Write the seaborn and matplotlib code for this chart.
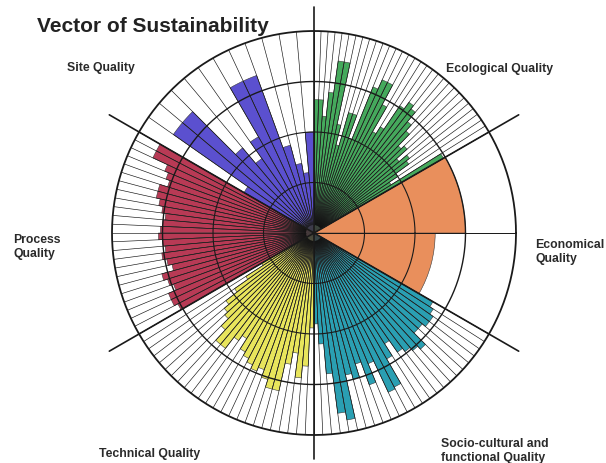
import numpy as np
import pandas as pd
import matplotlib
matplotlib.use("Agg")
import matplotlib.pyplot as plt
import seaborn as sns

# Daten: Werte je Kriterium (0..1), je Sektor gegen den Uhrzeigersinn
title = "Vector of Sustainability"
sector_names = ["Economical\nQuality", "Ecological Quality", "Site Quality",
                "Process\nQuality", "Technical Quality",
                "Socio-cultural and\nfunctional Quality"]
economical = [0.60, 0.75]
ecological = [0.74, 0.45, 0.50, 0.58, 0.60, 0.55, 0.62, 0.60, 0.68, 0.72,
              0.78, 0.80, 0.76, 0.62, 0.58, 0.72, 0.83, 0.83, 0.78, 0.50,
              0.62, 0.62, 0.45, 0.55, 0.86, 0.86, 0.70, 0.58, 0.66, 0.66]
site = [0.50, 0.30, 0.35, 0.45, 0.83, 0.83, 0.55, 0.45, 0.55, 0.85, 0.85, 0.40]
process = [0.88, 0.88, 0.80, 0.78, 0.76, 0.80, 0.80, 0.78, 0.76, 0.74, 0.75, 0.76,
           0.77, 0.75, 0.74, 0.76, 0.74, 0.72, 0.78, 0.76, 0.74, 0.78, 0.78, 0.76]
technical = [0.30, 0.40, 0.48, 0.55, 0.58, 0.60, 0.65, 0.72, 0.72, 0.65, 0.62, 0.68,
             0.70, 0.72, 0.74, 0.72, 0.76, 0.80, 0.80, 0.66, 0.60, 0.72, 0.66, 0.47]
socio = [0.45, 0.55, 0.70, 0.90, 0.94, 0.72, 0.75, 0.68, 0.80, 0.70, 0.87, 0.86,
         0.72, 0.65, 0.72, 0.74, 0.76, 0.78, 0.70, 0.70, 0.72, 0.72, 0.70, 0.68]
sector_values = [economical, ecological, site, process, technical, socio]
sector_colors = ["#e98f5c", "#45a95c", "#5b50cf", "#b83a55", "#e8e55c", "#2a9fb2"]

sns.set_theme(style="white")
plt.rcParams['font.family'] = ['Liberation Sans', 'DejaVu Sans']

W, H = 606, 464
fig = plt.figure(figsize=(W / 100, H / 100), dpi=100)
RMAX = 1.18
cx, cy, rpx = 314, 234, 202
half = rpx * RMAX
ax = fig.add_axes([(cx - half) / W, (H - cy - half) / H, 2 * half / W, 2 * half / H],
                  projection="polar")

sector = np.deg2rad(60)
for i, (vals, col) in enumerate(zip(sector_values, sector_colors)):
    start = np.deg2rad(-30) + i * sector
    n = len(vals)
    w = sector / n
    theta = start + w * (np.arange(n) + 0.5)
    df = pd.DataFrame({"theta": theta, "score": vals})
    sns.barplot(data=df, x="theta", y="score", native_scale=True, width=1,
                color=col, saturation=1, errorbar=None, orient="x",
                edgecolor="#3a3a3a", linewidth=0.4, ax=ax, zorder=2)
    # Speichen bis zum Außenkreis
    ax.vlines(start + w * np.arange(n + 1), 0.04, 1, color="#111111", lw=0.45, zorder=3)

# Ringe
t = np.linspace(0, 2 * np.pi, 500)
for r, lw in [(0.25, 0.8), (0.5, 0.8), (0.75, 1.0), (1.0, 1.3)]:
    ax.plot(t, np.full_like(t, r), color="#1a1a1a", lw=lw, zorder=4)

# Sektorgrenzen
for k in range(6):
    a = np.deg2rad(30 + 60 * k)
    rend = 1.12 if k in (1, 4) else 1.17
    ax.plot([a, a], [0, rend], color="#1a1a1a", lw=1.2, zorder=5)
ax.plot([0, 0], [0, 1], color="#1a1a1a", lw=0.7, zorder=5)

ax.set_ylim(0, RMAX)
ax.set_xticks([])
ax.set_yticks([])
ax.set_xlabel("")
ax.set_ylabel("")
ax.grid(False)
ax.spines["polar"].set_visible(False)
ax.set_facecolor("none")

def px(x, y):
    return x / W, 1 - y / H

kw = dict(fontsize=8.8, weight="bold", color="#2a2a2a", linespacing=1.25)
fig.text(*px(37, 27), title, fontsize=15, weight="bold", color="#222222",
         ha="left", va="center")
fig.text(*px(535, 252), sector_names[0], ha="left", va="center", **kw)
fig.text(*px(500, 69), sector_names[1], ha="center", va="center", **kw)
fig.text(*px(101, 68), sector_names[2], ha="center", va="center", **kw)
fig.text(*px(13, 247), sector_names[3], ha="left", va="center", **kw)
fig.text(*px(150, 454), sector_names[4], ha="center", va="center", **kw)
fig.text(*px(441, 451), sector_names[5], ha="left", va="center", **kw)

fig.savefig("out.png", dpi=100)
